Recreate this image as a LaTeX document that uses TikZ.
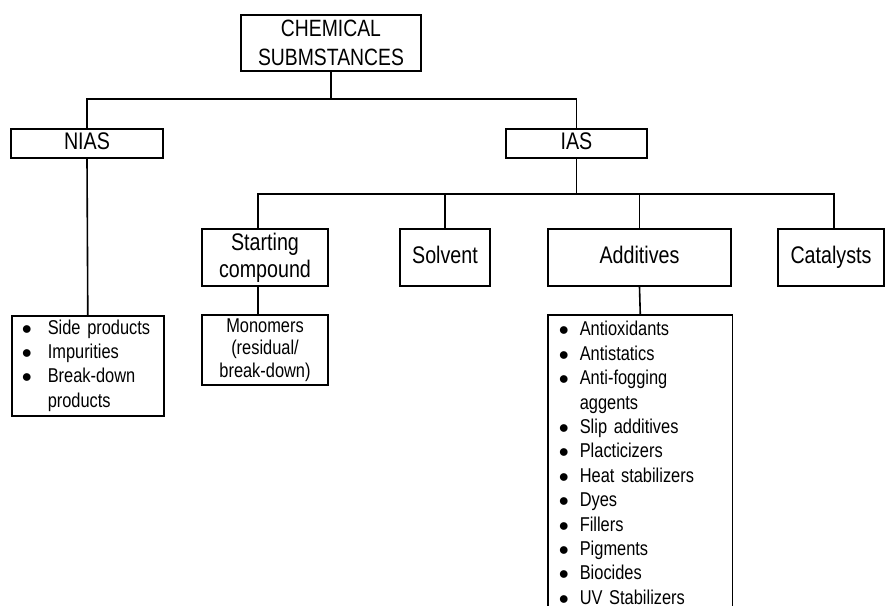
\documentclass[tikz,border=0pt]{standalone}
\usepackage{fontspec}
\setmainfont{Liberation Sans}[FakeStretch=0.82, WordSpace=0.8]
\usepackage{tikz}
\tikzset{every picture/.style={x=0.5pt,y=-0.5pt,line width=0.8pt}}
\tikzset{catbox/.style={draw, inner sep=0pt, align=center, minimum height=28.5pt, font=\fontsize{12}{13.5}\selectfont},
  oneline/.style={text height=8.7pt, text depth=2.5pt},
  listbox/.style={inner xsep=5pt, inner ysep=0.6pt, font=\fontsize{10}{12.2}\selectfont}}

\begin{document}
\begin{tikzpicture}
    % Top of the tree
    \useasboundingbox (0,0) rectangle (885,606);
    \node[catbox, minimum width=90pt, minimum height=28pt, font=\fontsize{11.8}{14.5}\selectfont] (chem) at (331,43) {CHEMICAL\\SUBMSTANCES};
    \node[catbox, oneline, minimum width=76pt, minimum height=14.5pt] (nias) at (87,143.5) {NIAS};
    \node[catbox, oneline, minimum width=70.5pt, minimum height=14.5pt] (ias) at (576.5,143.5) {IAS};
    % Example: IAS branches
    \node[catbox, minimum width=63pt] (start) at (265,257.5) {Starting\\compound};
    \node[catbox, oneline, minimum width=45pt] (solv) at (445,257.5) {Solvent};
    \node[catbox, oneline, minimum width=91.5pt] (addv) at (639.5,257.5) {Additives};
    \node[catbox, oneline, minimum width=53pt] (cat) at (831,257.5) {Catalysts};
    \node[catbox, minimum width=63pt, minimum height=35pt, font=\fontsize{10}{11.25}\selectfont] (mono) at (265,350) {Monomers\\(residual/\\break-down)};
    \node[draw, listbox, text width=66pt, minimum height=50pt, anchor=north west] (side) at (11,315)
      {\begin{tabular}{@{}l@{\hspace{8pt}}l@{}}
        $\bullet$ & Side products\\
        $\bullet$ & Impurities\\
        $\bullet$ & Break-down\\
                  & products
      \end{tabular}};
    \node[listbox, text width=81.5pt, inner ysep=1.5pt, anchor=north west] (addlist) at (548,315)
      {\begin{tabular}{@{}l@{\hspace{5.5pt}}l@{}}
        $\bullet$ & Antioxidants\\
        $\bullet$ & Antistatics\\
        $\bullet$ & Anti-fogging\\
                  & aggents\\
        $\bullet$ & Slip additives\\
        $\bullet$ & Placticizers\\
        $\bullet$ & Heat stabilizers\\
        $\bullet$ & Dyes\\
        $\bullet$ & Fillers\\
        $\bullet$ & Pigments\\
        $\bullet$ & Biocides\\
        $\bullet$ & UV Stabilizers
      \end{tabular}};
    % Connectors
    \coordinate (b1) at (331,99);
    \coordinate (b2) at (576.5,194);
    \coordinate (bot) at (0,606);
    \draw (chem.south) -- (b1);
    \draw (nias.north) |- (b1) -| (ias.north);
    \draw (nias.south) -- (side.north);
    \draw (ias.south) -- (b2);
    \draw ([xshift=-3.5pt]start.north) |- (b2) -| ([xshift=1.5pt]cat.north);
    \draw (solv.north) -- (solv.north |- b2);
    \draw (addv.north) -- (addv.north |- b2);
    \draw ([xshift=-3.5pt]start.south) -- ([xshift=-3.5pt]mono.north);
    \draw (addv.south) -- (addlist.north);
    \draw (addlist.north west |- bot) -- (addlist.north west) -- (addlist.north east) -- (addlist.north east |- bot);
\end{tikzpicture}
\end{document}
